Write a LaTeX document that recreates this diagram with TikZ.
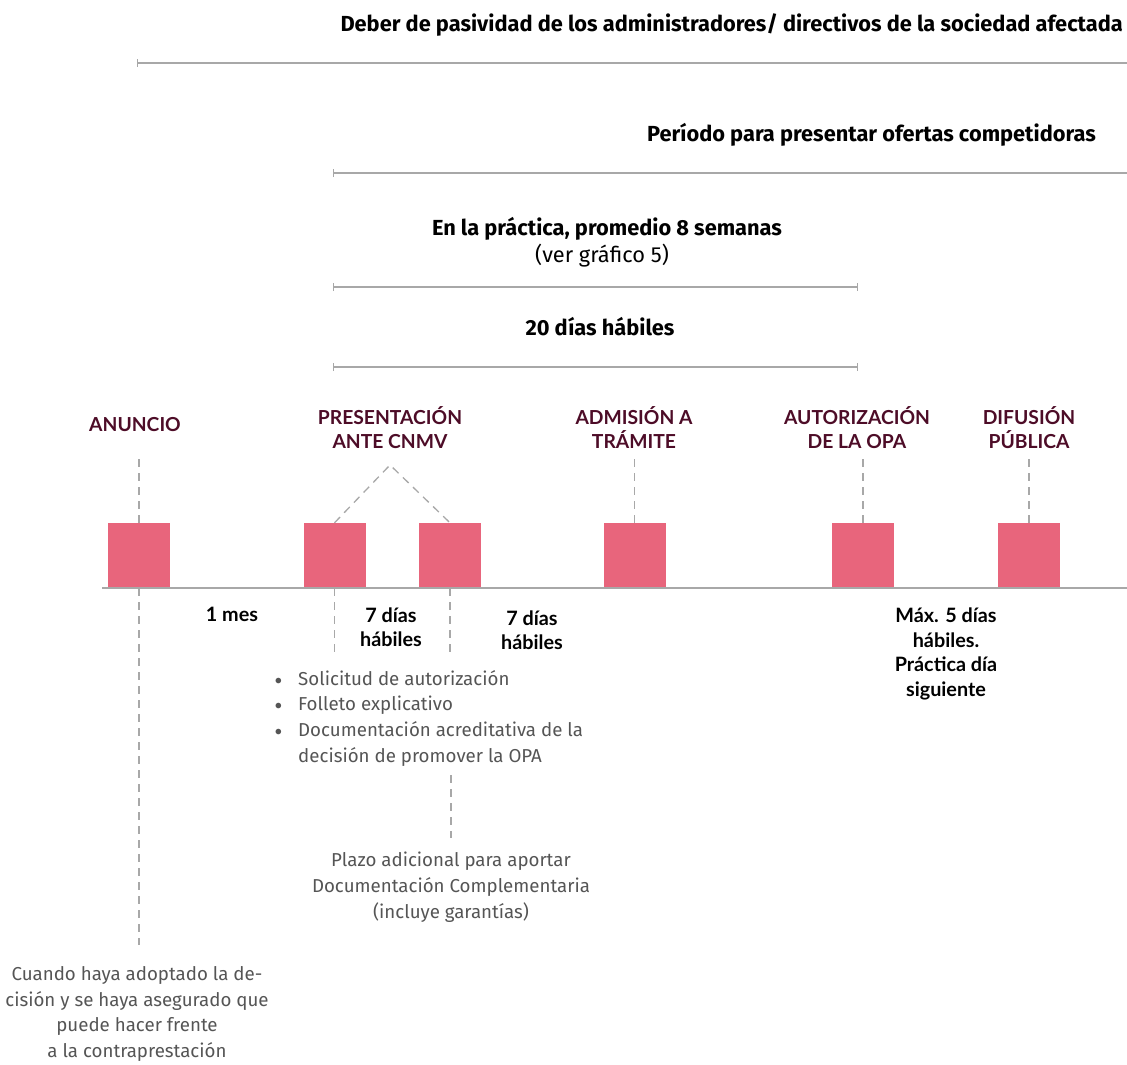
\documentclass[tikz,border=0pt]{standalone}
\usepackage{fontspec}
\setmainfont{Lato}
\newfontfamily\meta{Fira Sans}
\usetikzlibrary{arrows.meta}

\definecolor{hito}{HTML}{4D0C27}
\definecolor{caja}{HTML}{E8657C}
\definecolor{linea}{HTML}{A8A8A8}
\definecolor{texto}{HTML}{555555}

\tikzset{
  plazo/.style={draw=linea, line width=1.6pt},
  guia/.style={draw=linea, line width=1.3pt, dash pattern=on 8pt off 6pt},
  hitobox/.style={fill=caja, minimum width=62pt, minimum height=65pt, inner sep=0pt},
  hitolabel/.style={text=hito, align=center, inner sep=0pt, font=\bfseries\fontsize{19.3}{24}\selectfont},
  titulo/.style={text=black, align=center, inner sep=0pt, font=\meta\bfseries\fontsize{21.8}{25}\selectfont},
  negrita/.style={text=black, align=center, inner sep=0pt, font=\bfseries\fontsize{19.8}{24.5}\selectfont},
  nota/.style={text=texto, align=center, inner sep=0pt, font=\meta\fontsize{18.7}{25.7}\selectfont},
  tope/.tip={Bar[width=8pt, line width=1.4pt]}
}

\begin{document}
\begin{tikzpicture}[x=1pt, y=-1pt]
\useasboundingbox (0,0) rectangle (1127,1065);

% periodos de arriba
\node[titulo, anchor=east] (deber) at (1123,25) {Deber de pasividad de los administradores/ directivos de la sociedad afectada};
\coordinate (deber-a) at (137,63);
\coordinate (deber-b) at (1127,63);
\draw[plazo, tope-] (deber-a) -- (deber-b);

\node[titulo, anchor=east] (ofertas) at (1096,135) {Período para presentar ofertas competidoras};
\coordinate (ofertas-a) at (333,173);
\coordinate (ofertas-b) at (1127,173);
\draw[plazo, tope-] (ofertas-a) -- (ofertas-b);

\node[titulo] (practica) at (607,229) {En la práctica, promedio 8 semanas};
\node[nota, text=black, font=\meta\fontsize{21.8}{25}\selectfont] (grafico) at (602,256) {(ver gráfico 5)};
\coordinate (practica-a) at (333,287);
\coordinate (practica-b) at (858,287);
\draw[plazo, tope-tope] (practica-a) -- (practica-b);

\node[titulo] (veinte) at (600,327) {20 días hábiles};
\coordinate (veinte-a) at (333,367);
\coordinate (veinte-b) at (858,367);
\draw[plazo, tope-tope] (veinte-a) -- (veinte-b);

% hitos
\node[hitolabel] (anuncio) at (135,425) {ANUNCIO};
\node[hitolabel] (presenta) at (390,428) {PRESENTACIÓN\\ANTE CNMV};
\node[hitolabel] (admision) at (634,428) {ADMISIÓN A\\TRÁMITE};
\node[hitolabel] (autoriza) at (857,428) {AUTORIZACIÓN\\DE LA OPA};
\node[hitolabel] (difusion) at (1029,428) {DIFUSIÓN\\PÚBLICA};

\node[hitobox] (sq1) at (139,555.5) {};
\node[hitobox] (sq2) at (334.5,555.5) {};
\node[hitobox] (sq3) at (450,555.5) {};
\node[hitobox] (sq4) at (634.5,555.5) {};
\node[hitobox] (sq5) at (863,555.5) {};
\node[hitobox] (sq6) at (1029,555.5) {};

\coordinate (eje-a) at (102,588);
\coordinate (eje-b) at (1127,588);
\draw[plazo] (eje-a) -- (eje-b);

% guias de arriba
\coordinate (pico) at (390,465);
\draw[guia] (sq1.north) -- ++(0,-65);
\draw[guia] (sq2.north) -- (pico) -- (sq3.north);
\draw[guia] (sq4.north) -- ++(0,-65);
\draw[guia] (sq5.north) -- ++(0,-65);
\draw[guia] (sq6.north) -- ++(0,-65);

% textos de abajo
\node[negrita] (mes) at (232,614) {1 mes};
\node[negrita] (dias1) at (391,627) {7 días\\hábiles};
\node[negrita] (dias2) at (532,630) {7 días\\hábiles};
\node[negrita] (maximo) at (946,654) {Máx. 5 días\\hábiles.\\Práctica día\\siguiente};

\node[nota, align=left, anchor=north west] (docs) at (274,667) {%
  \begin{tabular}{@{}l@{}l@{}}
  \makebox[24pt][l]{\rmfamily\fontsize{15}{15}\selectfont\textbullet} & Solicitud de autorización\\
  \makebox[24pt][l]{\rmfamily\fontsize{15}{15}\selectfont\textbullet} & Folleto explicativo\\
  \makebox[24pt][l]{\rmfamily\fontsize{15}{15}\selectfont\textbullet} & Documentación acreditativa de la\\
  & decisión de promover la OPA
  \end{tabular}};

\node[nota] (plazo) at (451,887) {Plazo adicional para aportar\\Documentación Complementaria\\(incluye garantías)};
\node[nota] (cuando) at (137,1014) {Cuando haya adoptado la de-\\cisión y se haya asegurado que\\puede hacer frente\\a la contraprestación};

% guias de abajo
\coordinate (extra-a) at (451,775);
\coordinate (extra-b) at (451,838);
\draw[guia] (sq1.south) -- ++(0,357);
\draw[guia] (sq2.south) -- ++(0,64);
\draw[guia] (sq3.south) -- ++(0,64);
\draw[guia] (extra-a) -- (extra-b);
\end{tikzpicture}
\end{document}
